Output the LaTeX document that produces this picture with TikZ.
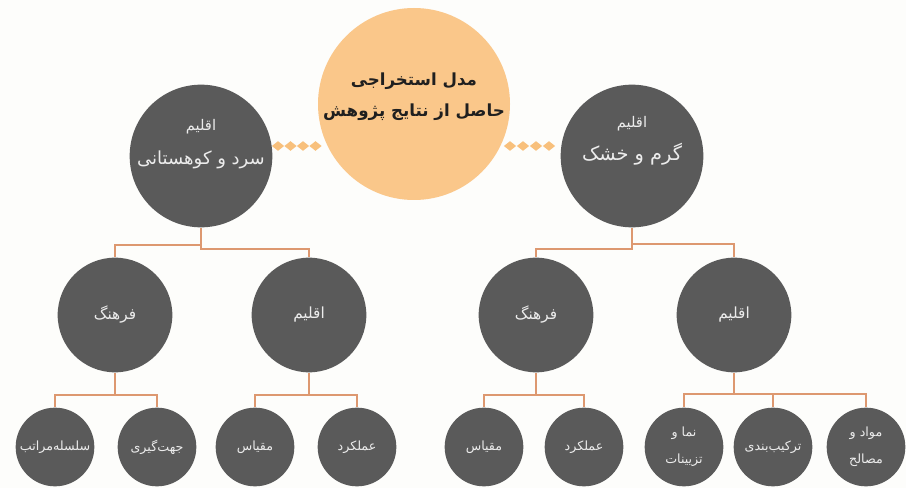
\documentclass[tikz,border=0pt]{standalone}
\usepackage{fontspec}
\newfontfamily\arabicfont[Script=Arabic]{DejaVu Sans}
\TeXXeTstate=1
\usetikzlibrary{shapes.geometric}

\definecolor{bgcol}{RGB}{253,253,251}
\definecolor{coreorange}{RGB}{250,199,138}
\definecolor{gemorange}{RGB}{248,192,124}
\definecolor{darkgrey}{RGB}{90,90,90}
\definecolor{linkcol}{RGB}{221,152,112}
\definecolor{lighttext}{RGB}{236,236,236}

\tikzset{every picture/.style={line width=0.75pt}}
\tikzset{
	core/.style={circle,fill=coreorange,minimum size=144pt,inner sep=0pt},
	coretext/.style={align=center,inner sep=0pt,text=black!88,font=\arabicfont\bfseries\fontsize{12.5}{23}\selectfont},
	zone/.style={circle,fill=darkgrey,minimum size=107pt,inner sep=0pt},
	zonetext/.style={align=center,inner sep=0pt,text=lighttext,font=\arabicfont},
	branch/.style={circle,fill=darkgrey,minimum size=86pt,inner sep=0pt,align=center,text=lighttext,font=\arabicfont\fontsize{11.5}{14}\selectfont},
	leaf/.style={circle,fill=darkgrey,minimum size=59pt,inner sep=0pt,align=center,text=lighttext,font=\arabicfont\fontsize{9.5}{20}\selectfont},
	link/.style={draw=linkcol,line width=0.9pt},
	gem/.style={diamond,fill=gemorange,inner sep=0pt,minimum width=9.5pt,minimum height=7.5pt}
}

\begin{document}
\begin{tikzpicture}[x=0.75pt,y=0.75pt,yscale=-1,xscale=1]
	\useasboundingbox[fill=bgcol] (0,0) rectangle (906,488);

	% diamond chains
	\foreach \x [count=\i] in {278,290.5,303,315.5} \node[gem] (gl\i) at (\x,146) {};
	\foreach \x [count=\i] in {510,523,536,549} \node[gem] (gr\i) at (\x,146) {};

	% top level
	\node[core] (core) at (414,104) {};
	\node[coretext] (coret) at (414,97) {\beginR مدل استخراجی\endR\\\beginR حاصل از نتایج پژوهش\endR};
	\node[zone] (lt) at (201,156) {};
	\node[zonetext] (ltt) at (201,144) {\fontsize{11}{13}\selectfont\beginR اقلیم\endR\\[12pt]\fontsize{13.5}{16}\selectfont\beginR سرد و کوهستانی\endR};
	\node[zone] (rt) at (632,156) {};
	\node[zonetext] (rtt) at (632,141) {\fontsize{11}{13}\selectfont\beginR اقلیم\endR\\[8pt]\fontsize{14.5}{17}\selectfont\beginR گرم و خشک\endR};

	% second level
	\node[branch] (lc) at (115,315) {\beginR فرهنگ\endR};
	\node[branch] (lk) at (309,315) {\beginR اقلیم\endR};
	\node[branch] (rc) at (536,315) {\beginR فرهنگ\endR};
	\node[branch] (rk) at (734,315) {\beginR اقلیم\endR};

	% third level
	\node[leaf] (lc1) at (55,447) {\beginR سلسله^^^^200cمراتب\endR};
	\node[leaf] (lc2) at (157,447) {\beginR جهت^^^^200cگیری\endR};
	\node[leaf] (lk1) at (255,447) {\beginR مقیاس\endR};
	\node[leaf] (lk2) at (357,447) {\beginR عملکرد\endR};
	\node[leaf] (rc1) at (484,447) {\beginR مقیاس\endR};
	\node[leaf] (rc2) at (584,447) {\beginR عملکرد\endR};
	\node[leaf] (rk1) at (684,447) {\beginR نما و\endR\\\beginR تزیینات\endR};
	\node[leaf] (rk2) at (773,447) {\beginR ترکیب^^^^200cبندی\endR};
	\node[leaf] (rk3) at (866,447) {\beginR مواد و\endR\\\beginR مصالح\endR};

	% bus points
	\coordinate (lbus) at (201,245);
	\coordinate (rbus) at (632,244);
	\coordinate (lcbus) at (115,395);
	\coordinate (lkbus) at (309,395);
	\coordinate (rcbus) at (536,395);
	\coordinate (rkbus) at (734,394);

	% connectors
	\draw[link] (lt.south) -- (lbus) -| (lc.north);
	\draw[link] (lbus) -- ++(0,4) -| (lk.north);
	\draw[link] (rt.south) -- (rbus) -| (rk.north);
	\draw[link] (rbus) -- ++(0,5) -| (rc.north);
	\draw[link] (lc.south) -- (lcbus) -| (lc1.north);
	\draw[link] (lcbus) -| (lc2.north);
	\draw[link] (lk.south) -- (lkbus) -| (lk1.north);
	\draw[link] (lkbus) -| (lk2.north);
	\draw[link] (rc.south) -- (rcbus) -| (rc1.north);
	\draw[link] (rcbus) -| (rc2.north);
	\draw[link] (rk.south) -- (rkbus) -| (rk1.north);
	\draw[link] (rkbus) -| (rk3.north);
	\draw[link] (rkbus -| rk2.north) -- (rk2.north);
\end{tikzpicture}
\end{document}
